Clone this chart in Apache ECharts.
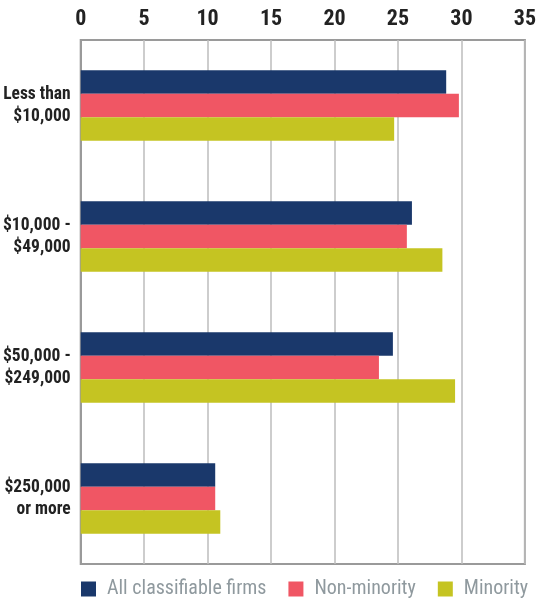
<!DOCTYPE html>
<html>
<head>
<meta charset="utf-8">
<script src="https://cdn.jsdelivr.net/npm/echarts@6/dist/echarts.min.js"></script>
<style>
  html, body { margin: 0; padding: 0; background: #fff; }
  #chart { width: 539px; height: 606px; }
</style>
</head>
<body>
<div id="chart"></div>
<script>
// Revenue-size categories, listed top to bottom
const categories = ['Less than\n$10,000', '$10,000 -\n$49,000', '$50,000 -\n$249,000', '$250,000\nor more'];
const seriesNames = ['All classifiable firms', 'Non-minority', 'Minority'];
const allFirms = [28.8, 26.1, 24.6, 10.6];
const nonMinority = [29.8, 25.7, 23.5, 10.6];
const minority = [24.7, 28.5, 29.5, 11.0];
const xTicks = { min: 0, max: 35, interval: 5 };

const colors = ['#1a386b', '#f05664', '#c5c422'];
const condensed = "'Liberation Sans Narrow', 'Roboto Condensed', 'DejaVu Sans Condensed', sans-serif";

const chart = echarts.init(document.getElementById('chart'));
chart.setOption({
  animation: false,
  color: colors,
  grid: {
    left: 77, right: 8, top: 40, bottom: 42,
    show: true, borderColor: '#9a9a9a', borderWidth: 2, containLabel: false
  },
  xAxis: {
    type: 'value', position: 'top',
    min: xTicks.min, max: xTicks.max, interval: xTicks.interval,
    axisLine: { show: false }, axisTick: { show: false },
    splitLine: { show: true, lineStyle: { color: '#bdbdbd', width: 1.5 } },
    axisLabel: { fontFamily: condensed, fontWeight: 'bold', fontSize: 22, color: '#222', margin: 10 }
  },
  yAxis: {
    type: 'category', data: categories, inverse: true,
    axisLine: { show: true, lineStyle: { color: '#9a9a9a', width: 2 } },
    axisTick: { show: false },
    axisLabel: { fontFamily: condensed, fontWeight: 'bold', fontSize: 17.5, lineHeight: 22, color: '#222', margin: 10, align: 'right' }
  },
  legend: {
    bottom: 2, left: 76, itemWidth: 15, itemHeight: 15, itemGap: 22,
    icon: 'rect',
    textStyle: { fontFamily: condensed, fontSize: 20, color: '#8f999e', padding: [0, 0, 0, 6] },
    data: seriesNames
  },
  series: [
    { name: seriesNames[0], type: 'bar', data: allFirms, barWidth: 23.5, barGap: '0%' },
    { name: seriesNames[1], type: 'bar', data: nonMinority, barWidth: 23.5, barGap: '0%' },
    { name: seriesNames[2], type: 'bar', data: minority, barWidth: 23.5, barGap: '0%' }
  ]
});
</script>
</body>
</html>
